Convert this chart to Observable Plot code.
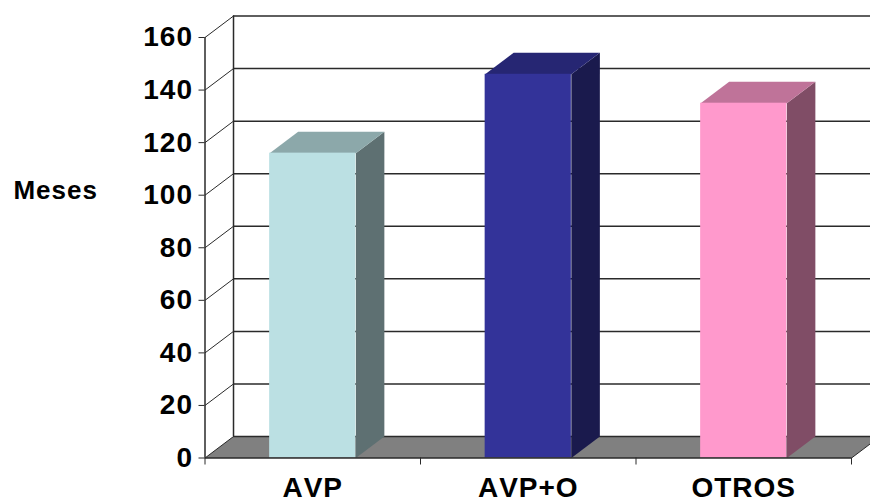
<!DOCTYPE html>
<html>
<head>
<meta charset="utf-8">
<script src="https://cdn.jsdelivr.net/npm/d3@7"></script>
<script src="https://cdn.jsdelivr.net/npm/@observablehq/plot@0.6"></script>
<style>
  html, body { margin: 0; padding: 0; background: #fff; }
  svg { display: block; }
  svg text { letter-spacing: 1px; font-kerning: none; }
</style>
</head>
<body>
<div id="chart"></div>
<script>
// Months per treatment group
const categories = ["AVP", "AVP+O", "OTROS"];
const values = [116, 146, 135];
const frontColors = ["#bbe0e3", "#333399", "#ff99cc"];
const topColors = ["#8ca8aa", "#262673", "#bf7399"];
const sideColors = ["#5e7072", "#1a1a4d", "#804d66"];
const yTicks = [0, 20, 40, 60, 80, 100, 120, 140, 160];
const xTicks = [0, 1, 2, 3];

// Oblique projection of the chart box, in scale units
const depthX = 0.1323;
const depthY = 8.18;
const xEdge = 3.09;
const barInset = 0.3;

const font = {fontFamily: "'Liberation Sans', Arial, sans-serif", fontWeight: "bold", fill: "#000"};
const ink = "#2a2a2a";

const polygon = (points, fill) =>
  Plot.line(points, {x: "0", y: "1", fill, stroke: "none", curve: "linear"});

const barFaces = categories.flatMap((c, i) => {
  const x1 = i + barInset, x2 = i + 1 - barInset, v = values[i];
  return [
    polygon([[x2, 0], [x2 + depthX, depthY], [x2 + depthX, v + depthY], [x2, v]], sideColors[i]),
    polygon([[x1, v], [x1 + depthX, v + depthY], [x2 + depthX, v + depthY], [x2, v]], topColors[i]),
    Plot.rect([v], {x1: x1, x2: x2, y1: 0, y2: v, fill: frontColors[i]})
  ];
});

const chart = Plot.plot({
  width: 870,
  height: 503,
  marginLeft: 204.5,
  marginRight: 19,
  marginTop: 37,
  marginBottom: 45.5,
  x: {type: "linear", domain: [0, 3], axis: null},
  y: {type: "linear", domain: [0, 160], axis: null},
  marks: [
    // floor
    polygon([[0, 0], [depthX, depthY], [xEdge, depthY], [xEdge, 0.09 / depthX * depthY], [3, 0]], "#808080"),
    // back wall gridlines and left wall diagonals
    Plot.ruleY(yTicks, {y: (d) => d + depthY, x1: depthX, x2: xEdge, stroke: ink, strokeWidth: 1.5}),
    Plot.ruleX([depthX], {y1: depthY, y2: 160 + depthY, stroke: ink, strokeWidth: 1.5}),
    Plot.link(yTicks, {x1: 0, x2: depthX, y1: (d) => d, y2: (d) => d + depthY, stroke: ink, strokeWidth: 1}),
    Plot.link([3], {x1: 3, x2: xEdge, y1: 0, y2: 0.09 / depthX * depthY, stroke: ink, strokeWidth: 1}),
    ...barFaces,
    // front axes
    Plot.ruleY([0], {x1: 0, x2: 3, stroke: ink, strokeWidth: 1.5}),
    Plot.ruleX([0], {y1: 0, y2: 160, stroke: ink, strokeWidth: 1.5}),
    Plot.axisY({ticks: yTicks, tickSize: 6, tickPadding: 6, label: null, stroke: ink, fontSize: 28, ...font}),
    Plot.axisX({ticks: xTicks, tickSize: 7, tickFormat: () => "", label: null, stroke: ink}),
    Plot.text(categories, {
      x: (d, i) => i + 0.5, y: 0, dy: 30.5, text: (d) => d, fontSize: 28, ...font
    }),
    Plot.text(["Meses"], {x: -0.889, y: 101.8, textAnchor: "start", fontSize: 26, ...font})
  ]
});

document.getElementById("chart").appendChild(chart);
</script>
</body>
</html>
